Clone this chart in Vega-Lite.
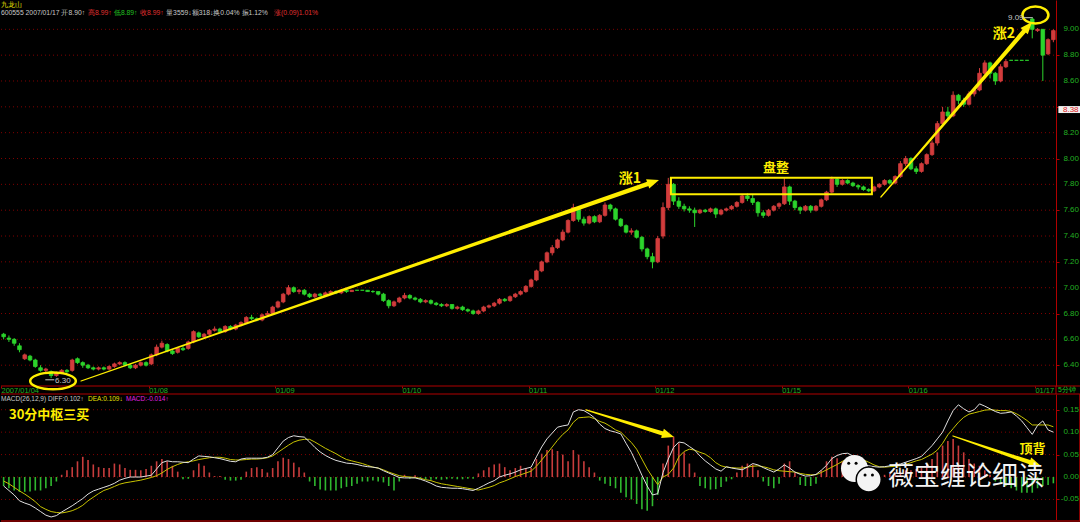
{
"$schema": "https://vega.github.io/schema/vega-lite/v6.json",
"background": "#000000",
"padding": 0,
"bounds": "flush",
"spacing": 8,
"config": {
  "view": {"stroke": null},
  "axis": {"domainColor": "#b00000", "tickColor": "#b00000", "labelColor": "#22b022", "labelFont": "Liberation Sans", "labelFontSize": 8, "labelOverlap": false}
},
"datasets": {
"bars": [
{"i":0,"o":6.64,"h":6.65,"l":6.60,"c":6.62,"d":-0.020,"e":-0.009,"m":-0.020},
{"i":1,"o":6.61,"h":6.63,"l":6.58,"c":6.60,"d":-0.030,"e":-0.015,"m":-0.025},
{"i":2,"o":6.60,"h":6.61,"l":6.55,"c":6.57,"d":-0.040,"e":-0.023,"m":-0.030},
{"i":3,"o":6.55,"h":6.57,"l":6.50,"c":6.52,"d":-0.053,"e":-0.031,"m":-0.033},
{"i":4,"o":6.45,"h":6.49,"l":6.44,"c":6.48,"d":-0.058,"e":-0.038,"m":-0.033},
{"i":5,"o":6.47,"h":6.48,"l":6.43,"c":6.44,"d":-0.062,"e":-0.046,"m":-0.032},
{"i":6,"o":6.44,"h":6.45,"l":6.38,"c":6.39,"d":-0.069,"e":-0.055,"m":-0.030},
{"i":7,"o":6.38,"h":6.40,"l":6.35,"c":6.36,"d":-0.077,"e":-0.066,"m":-0.030},
{"i":8,"o":6.36,"h":6.38,"l":6.34,"c":6.37,"d":-0.085,"e":-0.072,"m":-0.025},
{"i":9,"o":6.35,"h":6.36,"l":6.30,"c":6.32,"d":-0.089,"e":-0.077,"m":-0.020},
{"i":10,"o":6.32,"h":6.35,"l":6.31,"c":6.34,"d":-0.086,"e":-0.079,"m":-0.010},
{"i":11,"o":6.34,"h":6.37,"l":6.33,"c":6.36,"d":-0.078,"e":-0.080,"m":0.005},
{"i":12,"o":6.36,"h":6.37,"l":6.34,"c":6.35,"d":-0.071,"e":-0.078,"m":0.015},
{"i":13,"o":6.36,"h":6.45,"l":6.35,"c":6.44,"d":-0.064,"e":-0.075,"m":0.022},
{"i":14,"o":6.45,"h":6.46,"l":6.41,"c":6.42,"d":-0.056,"e":-0.070,"m":0.035},
{"i":15,"o":6.42,"h":6.43,"l":6.38,"c":6.40,"d":-0.048,"e":-0.063,"m":0.045},
{"i":16,"o":6.40,"h":6.41,"l":6.37,"c":6.38,"d":-0.038,"e":-0.053,"m":0.038},
{"i":17,"o":6.38,"h":6.39,"l":6.36,"c":6.37,"d":-0.031,"e":-0.045,"m":0.028},
{"i":18,"o":6.37,"h":6.39,"l":6.36,"c":6.38,"d":-0.027,"e":-0.037,"m":0.022},
{"i":19,"o":6.38,"h":6.39,"l":6.36,"c":6.37,"d":-0.023,"e":-0.030,"m":0.020},
{"i":20,"o":6.37,"h":6.40,"l":6.36,"c":6.39,"d":-0.019,"e":-0.026,"m":0.020},
{"i":21,"o":6.39,"h":6.42,"l":6.38,"c":6.41,"d":-0.014,"e":-0.021,"m":0.030},
{"i":22,"o":6.41,"h":6.43,"l":6.40,"c":6.42,"d":-0.007,"e":-0.016,"m":0.028},
{"i":23,"o":6.42,"h":6.43,"l":6.39,"c":6.40,"d":-0.003,"e":-0.013,"m":0.020},
{"i":24,"o":6.40,"h":6.41,"l":6.37,"c":6.38,"d":0.000,"e":-0.011,"m":0.016},
{"i":25,"o":6.38,"h":6.41,"l":6.37,"c":6.40,"d":0.000,"e":-0.009,"m":0.016},
{"i":26,"o":6.40,"h":6.43,"l":6.39,"c":6.42,"d":0.000,"e":-0.007,"m":0.015},
{"i":27,"o":6.42,"h":6.43,"l":6.39,"c":6.40,"d":0.002,"e":-0.004,"m":0.018},
{"i":28,"o":6.41,"h":6.49,"l":6.40,"c":6.48,"d":0.004,"e":-0.001,"m":0.025},
{"i":29,"o":6.48,"h":6.56,"l":6.47,"c":6.54,"d":0.018,"e":0.003,"m":0.035},
{"i":30,"o":6.54,"h":6.59,"l":6.53,"c":6.57,"d":0.032,"e":0.009,"m":0.040},
{"i":31,"o":6.56,"h":6.57,"l":6.50,"c":6.51,"d":0.036,"e":0.017,"m":0.035},
{"i":32,"o":6.51,"h":6.52,"l":6.48,"c":6.49,"d":0.034,"e":0.023,"m":0.025},
{"i":33,"o":6.50,"h":6.54,"l":6.49,"c":6.53,"d":0.034,"e":0.028,"m":0.012},
{"i":34,"o":6.53,"h":6.55,"l":6.51,"c":6.52,"d":0.033,"e":0.032,"m":-0.005},
{"i":35,"o":6.53,"h":6.59,"l":6.52,"c":6.58,"d":0.032,"e":0.034,"m":-0.004},
{"i":36,"o":6.58,"h":6.67,"l":6.57,"c":6.66,"d":0.040,"e":0.036,"m":0.015},
{"i":37,"o":6.65,"h":6.66,"l":6.61,"c":6.62,"d":0.047,"e":0.039,"m":0.030},
{"i":38,"o":6.62,"h":6.65,"l":6.61,"c":6.64,"d":0.046,"e":0.041,"m":0.025},
{"i":39,"o":6.64,"h":6.68,"l":6.63,"c":6.67,"d":0.045,"e":0.043,"m":0.010},
{"i":40,"o":6.67,"h":6.70,"l":6.66,"c":6.68,"d":0.043,"e":0.044,"m":0.002},
{"i":41,"o":6.68,"h":6.69,"l":6.65,"c":6.66,"d":0.041,"e":0.044,"m":0.002},
{"i":42,"o":6.66,"h":6.71,"l":6.65,"c":6.70,"d":0.038,"e":0.042,"m":-0.006},
{"i":43,"o":6.70,"h":6.71,"l":6.67,"c":6.68,"d":0.035,"e":0.039,"m":-0.008},
{"i":44,"o":6.68,"h":6.72,"l":6.67,"c":6.71,"d":0.034,"e":0.038,"m":-0.008},
{"i":45,"o":6.71,"h":6.74,"l":6.70,"c":6.73,"d":0.040,"e":0.038,"m":-0.006},
{"i":46,"o":6.73,"h":6.78,"l":6.72,"c":6.77,"d":0.042,"e":0.039,"m":0.012},
{"i":47,"o":6.77,"h":6.79,"l":6.75,"c":6.76,"d":0.042,"e":0.040,"m":0.020},
{"i":48,"o":6.76,"h":6.77,"l":6.74,"c":6.75,"d":0.042,"e":0.040,"m":0.022},
{"i":49,"o":6.75,"h":6.80,"l":6.74,"c":6.79,"d":0.042,"e":0.041,"m":0.018},
{"i":50,"o":6.79,"h":6.82,"l":6.78,"c":6.80,"d":0.044,"e":0.043,"m":0.010},
{"i":51,"o":6.80,"h":6.86,"l":6.79,"c":6.85,"d":0.050,"e":0.047,"m":0.020},
{"i":52,"o":6.85,"h":6.90,"l":6.84,"c":6.89,"d":0.065,"e":0.055,"m":0.035},
{"i":53,"o":6.89,"h":6.96,"l":6.88,"c":6.95,"d":0.080,"e":0.063,"m":0.043},
{"i":54,"o":6.95,"h":7.02,"l":6.94,"c":7.00,"d":0.088,"e":0.071,"m":0.040},
{"i":55,"o":7.00,"h":7.01,"l":6.96,"c":6.97,"d":0.092,"e":0.078,"m":0.032},
{"i":56,"o":6.97,"h":6.99,"l":6.95,"c":6.98,"d":0.090,"e":0.082,"m":0.022},
{"i":57,"o":6.98,"h":6.99,"l":6.94,"c":6.95,"d":0.089,"e":0.084,"m":0.010},
{"i":58,"o":6.95,"h":6.96,"l":6.92,"c":6.93,"d":0.078,"e":0.084,"m":-0.010},
{"i":59,"o":6.93,"h":6.96,"l":6.92,"c":6.95,"d":0.066,"e":0.078,"m":-0.020},
{"i":60,"o":6.95,"h":6.96,"l":6.93,"c":6.94,"d":0.056,"e":0.071,"m":-0.028},
{"i":61,"o":6.94,"h":6.97,"l":6.93,"c":6.96,"d":0.048,"e":0.064,"m":-0.030},
{"i":62,"o":6.96,"h":6.98,"l":6.95,"c":6.97,"d":0.042,"e":0.058,"m":-0.030},
{"i":63,"o":6.97,"h":6.98,"l":6.95,"c":6.96,"d":0.037,"e":0.052,"m":-0.030},
{"i":64,"o":6.96,"h":6.99,"l":6.95,"c":6.98,"d":0.034,"e":0.045,"m":-0.025},
{"i":65,"o":6.98,"h":6.99,"l":6.96,"c":6.97,"d":0.031,"e":0.039,"m":-0.022},
{"i":66,"o":6.97,"h":6.98,"l":6.97,"c":6.98,"d":0.030,"e":0.036,"m":-0.020},
{"i":67,"o":6.98,"h":6.98,"l":6.98,"c":6.98,"d":0.028,"e":0.033,"m":-0.015},
{"i":68,"o":6.98,"h":6.98,"l":6.98,"c":6.98,"d":0.025,"e":0.030,"m":-0.010},
{"i":69,"o":6.98,"h":6.98,"l":6.97,"c":6.97,"d":0.023,"e":0.026,"m":-0.010},
{"i":70,"o":6.97,"h":6.98,"l":6.96,"c":6.97,"d":0.022,"e":0.022,"m":-0.008},
{"i":71,"o":6.97,"h":6.97,"l":6.94,"c":6.95,"d":0.020,"e":0.020,"m":-0.010},
{"i":72,"o":6.95,"h":6.96,"l":6.89,"c":6.90,"d":0.014,"e":0.016,"m":-0.012},
{"i":73,"o":6.90,"h":6.91,"l":6.84,"c":6.86,"d":0.009,"e":0.011,"m":-0.020},
{"i":74,"o":6.86,"h":6.90,"l":6.85,"c":6.89,"d":0.004,"e":0.007,"m":-0.030},
{"i":75,"o":6.89,"h":6.93,"l":6.88,"c":6.92,"d":-0.001,"e":0.003,"m":-0.010},
{"i":76,"o":6.92,"h":6.96,"l":6.91,"c":6.94,"d":-0.002,"e":0.001,"m":0.005},
{"i":77,"o":6.94,"h":6.95,"l":6.91,"c":6.92,"d":-0.002,"e":0.000,"m":-0.004},
{"i":78,"o":6.92,"h":6.93,"l":6.90,"c":6.91,"d":-0.002,"e":-0.001,"m":0.004},
{"i":79,"o":6.91,"h":6.92,"l":6.88,"c":6.89,"d":-0.005,"e":-0.003,"m":-0.003},
{"i":80,"o":6.89,"h":6.91,"l":6.88,"c":6.90,"d":-0.009,"e":-0.006,"m":-0.005},
{"i":81,"o":6.90,"h":6.91,"l":6.87,"c":6.88,"d":-0.014,"e":-0.008,"m":-0.006},
{"i":82,"o":6.88,"h":6.89,"l":6.86,"c":6.87,"d":-0.020,"e":-0.012,"m":-0.005},
{"i":83,"o":6.87,"h":6.88,"l":6.85,"c":6.86,"d":-0.023,"e":-0.015,"m":-0.006},
{"i":84,"o":6.86,"h":6.88,"l":6.85,"c":6.87,"d":-0.024,"e":-0.017,"m":-0.005},
{"i":85,"o":6.87,"h":6.87,"l":6.83,"c":6.84,"d":-0.025,"e":-0.019,"m":-0.004},
{"i":86,"o":6.84,"h":6.86,"l":6.83,"c":6.85,"d":-0.025,"e":-0.021,"m":-0.005},
{"i":87,"o":6.85,"h":6.86,"l":6.82,"c":6.83,"d":-0.026,"e":-0.023,"m":-0.005},
{"i":88,"o":6.83,"h":6.84,"l":6.81,"c":6.82,"d":-0.028,"e":-0.025,"m":-0.004},
{"i":89,"o":6.82,"h":6.83,"l":6.79,"c":6.80,"d":-0.030,"e":-0.027,"m":-0.004},
{"i":90,"o":6.80,"h":6.83,"l":6.79,"c":6.82,"d":-0.025,"e":-0.029,"m":0.008},
{"i":91,"o":6.82,"h":6.86,"l":6.81,"c":6.85,"d":-0.019,"e":-0.026,"m":0.015},
{"i":92,"o":6.85,"h":6.87,"l":6.84,"c":6.86,"d":-0.013,"e":-0.023,"m":0.022},
{"i":93,"o":6.86,"h":6.89,"l":6.85,"c":6.88,"d":-0.008,"e":-0.019,"m":0.028},
{"i":94,"o":6.88,"h":6.92,"l":6.87,"c":6.91,"d":0.000,"e":-0.013,"m":0.030},
{"i":95,"o":6.91,"h":6.92,"l":6.89,"c":6.90,"d":0.004,"e":-0.009,"m":0.022},
{"i":96,"o":6.90,"h":6.94,"l":6.89,"c":6.93,"d":0.007,"e":-0.004,"m":0.015},
{"i":97,"o":6.93,"h":6.96,"l":6.92,"c":6.95,"d":0.011,"e":0.001,"m":0.020},
{"i":98,"o":6.95,"h":6.98,"l":6.94,"c":6.97,"d":0.016,"e":0.005,"m":0.025},
{"i":99,"o":6.97,"h":7.02,"l":6.96,"c":7.01,"d":0.019,"e":0.009,"m":0.020},
{"i":100,"o":7.01,"h":7.07,"l":7.00,"c":7.06,"d":0.022,"e":0.013,"m":0.020},
{"i":101,"o":7.06,"h":7.14,"l":7.05,"c":7.13,"d":0.045,"e":0.024,"m":0.040},
{"i":102,"o":7.13,"h":7.21,"l":7.12,"c":7.20,"d":0.067,"e":0.038,"m":0.052},
{"i":103,"o":7.20,"h":7.28,"l":7.19,"c":7.27,"d":0.085,"e":0.052,"m":0.060},
{"i":104,"o":7.27,"h":7.33,"l":7.25,"c":7.31,"d":0.098,"e":0.067,"m":0.062},
{"i":105,"o":7.31,"h":7.38,"l":7.30,"c":7.37,"d":0.111,"e":0.082,"m":0.058},
{"i":106,"o":7.37,"h":7.45,"l":7.36,"c":7.43,"d":0.114,"e":0.095,"m":0.050},
{"i":107,"o":7.43,"h":7.53,"l":7.42,"c":7.52,"d":0.116,"e":0.105,"m":0.035},
{"i":108,"o":7.52,"h":7.65,"l":7.51,"c":7.62,"d":0.145,"e":0.122,"m":0.060},
{"i":109,"o":7.61,"h":7.62,"l":7.51,"c":7.53,"d":0.150,"e":0.132,"m":0.050},
{"i":110,"o":7.53,"h":7.55,"l":7.48,"c":7.50,"d":0.148,"e":0.133,"m":0.035},
{"i":111,"o":7.50,"h":7.56,"l":7.49,"c":7.55,"d":0.141,"e":0.134,"m":0.022},
{"i":112,"o":7.55,"h":7.56,"l":7.50,"c":7.51,"d":0.132,"e":0.130,"m":0.010},
{"i":113,"o":7.51,"h":7.57,"l":7.50,"c":7.56,"d":0.118,"e":0.124,"m":-0.008},
{"i":114,"o":7.56,"h":7.66,"l":7.55,"c":7.64,"d":0.108,"e":0.120,"m":-0.015},
{"i":115,"o":7.64,"h":7.65,"l":7.59,"c":7.61,"d":0.103,"e":0.113,"m":-0.020},
{"i":116,"o":7.61,"h":7.62,"l":7.52,"c":7.53,"d":0.100,"e":0.105,"m":-0.025},
{"i":117,"o":7.53,"h":7.54,"l":7.47,"c":7.48,"d":0.096,"e":0.100,"m":-0.035},
{"i":118,"o":7.48,"h":7.49,"l":7.42,"c":7.43,"d":0.075,"e":0.088,"m":-0.045},
{"i":119,"o":7.43,"h":7.46,"l":7.41,"c":7.44,"d":0.055,"e":0.077,"m":-0.050},
{"i":120,"o":7.44,"h":7.45,"l":7.38,"c":7.39,"d":0.030,"e":0.062,"m":-0.060},
{"i":121,"o":7.39,"h":7.40,"l":7.28,"c":7.30,"d":0.004,"e":0.040,"m":-0.072},
{"i":122,"o":7.30,"h":7.31,"l":7.22,"c":7.24,"d":-0.020,"e":0.018,"m":-0.075},
{"i":123,"o":7.24,"h":7.27,"l":7.15,"c":7.20,"d":-0.040,"e":0.000,"m":-0.065},
{"i":124,"o":7.20,"h":7.40,"l":7.19,"c":7.38,"d":-0.037,"e":-0.017,"m":-0.040},
{"i":125,"o":7.40,"h":7.66,"l":7.38,"c":7.62,"d":0.010,"e":0.000,"m":0.030},
{"i":126,"o":7.62,"h":7.85,"l":7.60,"c":7.80,"d":0.040,"e":0.006,"m":0.070},
{"i":127,"o":7.80,"h":7.81,"l":7.64,"c":7.67,"d":0.066,"e":0.020,"m":0.090},
{"i":128,"o":7.67,"h":7.70,"l":7.61,"c":7.63,"d":0.078,"e":0.045,"m":0.075},
{"i":129,"o":7.63,"h":7.65,"l":7.59,"c":7.61,"d":0.076,"e":0.057,"m":0.055},
{"i":130,"o":7.61,"h":7.63,"l":7.58,"c":7.60,"d":0.068,"e":0.062,"m":0.030},
{"i":131,"o":7.60,"h":7.62,"l":7.47,"c":7.58,"d":0.060,"e":0.060,"m":0.010},
{"i":132,"o":7.58,"h":7.61,"l":7.57,"c":7.60,"d":0.047,"e":0.055,"m":-0.020},
{"i":133,"o":7.60,"h":7.61,"l":7.58,"c":7.59,"d":0.036,"e":0.051,"m":-0.025},
{"i":134,"o":7.59,"h":7.62,"l":7.58,"c":7.61,"d":0.027,"e":0.043,"m":-0.028},
{"i":135,"o":7.61,"h":7.62,"l":7.54,"c":7.57,"d":0.018,"e":0.032,"m":-0.027},
{"i":136,"o":7.57,"h":7.61,"l":7.56,"c":7.60,"d":0.013,"e":0.025,"m":-0.022},
{"i":137,"o":7.60,"h":7.62,"l":7.59,"c":7.61,"d":0.023,"e":0.022,"m":-0.010},
{"i":138,"o":7.61,"h":7.64,"l":7.60,"c":7.63,"d":0.020,"e":0.021,"m":-0.005},
{"i":139,"o":7.63,"h":7.67,"l":7.62,"c":7.66,"d":0.018,"e":0.020,"m":0.010},
{"i":140,"o":7.66,"h":7.72,"l":7.65,"c":7.71,"d":0.016,"e":0.020,"m":0.025},
{"i":141,"o":7.71,"h":7.73,"l":7.67,"c":7.69,"d":0.022,"e":0.022,"m":0.030},
{"i":142,"o":7.69,"h":7.72,"l":7.64,"c":7.66,"d":0.030,"e":0.024,"m":0.028},
{"i":143,"o":7.66,"h":7.67,"l":7.55,"c":7.58,"d":0.027,"e":0.025,"m":0.015},
{"i":144,"o":7.58,"h":7.60,"l":7.54,"c":7.56,"d":0.021,"e":0.023,"m":-0.010},
{"i":145,"o":7.56,"h":7.61,"l":7.55,"c":7.60,"d":0.016,"e":0.020,"m":-0.020},
{"i":146,"o":7.60,"h":7.64,"l":7.59,"c":7.63,"d":0.011,"e":0.016,"m":-0.025},
{"i":147,"o":7.63,"h":7.66,"l":7.61,"c":7.65,"d":0.018,"e":0.014,"m":-0.015},
{"i":148,"o":7.65,"h":7.85,"l":7.64,"c":7.78,"d":0.027,"e":0.013,"m":0.030},
{"i":149,"o":7.78,"h":7.79,"l":7.64,"c":7.67,"d":0.020,"e":0.012,"m":0.035},
{"i":150,"o":7.67,"h":7.68,"l":7.60,"c":7.62,"d":0.011,"e":0.011,"m":0.010},
{"i":151,"o":7.62,"h":7.63,"l":7.57,"c":7.60,"d":0.006,"e":0.008,"m":-0.018},
{"i":152,"o":7.60,"h":7.64,"l":7.59,"c":7.63,"d":0.002,"e":0.006,"m":-0.020},
{"i":153,"o":7.63,"h":7.64,"l":7.58,"c":7.60,"d":0.003,"e":0.005,"m":-0.020},
{"i":154,"o":7.60,"h":7.64,"l":7.59,"c":7.63,"d":0.006,"e":0.005,"m":-0.015},
{"i":155,"o":7.63,"h":7.69,"l":7.62,"c":7.68,"d":0.015,"e":0.010,"m":0.015},
{"i":156,"o":7.68,"h":7.75,"l":7.67,"c":7.74,"d":0.026,"e":0.016,"m":0.035},
{"i":157,"o":7.74,"h":7.86,"l":7.73,"c":7.84,"d":0.041,"e":0.022,"m":0.045},
{"i":158,"o":7.84,"h":7.85,"l":7.78,"c":7.80,"d":0.048,"e":0.028,"m":0.042},
{"i":159,"o":7.80,"h":7.84,"l":7.79,"c":7.83,"d":0.052,"e":0.035,"m":0.035},
{"i":160,"o":7.83,"h":7.84,"l":7.80,"c":7.81,"d":0.053,"e":0.040,"m":0.025},
{"i":161,"o":7.81,"h":7.82,"l":7.78,"c":7.79,"d":0.047,"e":0.039,"m":0.015},
{"i":162,"o":7.79,"h":7.80,"l":7.76,"c":7.78,"d":0.037,"e":0.039,"m":0.005},
{"i":163,"o":7.78,"h":7.79,"l":7.75,"c":7.76,"d":0.028,"e":0.038,"m":-0.010},
{"i":164,"o":7.76,"h":7.77,"l":7.74,"c":7.75,"d":0.025,"e":0.033,"m":-0.012},
{"i":165,"o":7.75,"h":7.79,"l":7.74,"c":7.78,"d":0.023,"e":0.027,"m":-0.010},
{"i":166,"o":7.78,"h":7.81,"l":7.77,"c":7.80,"d":0.022,"e":0.023,"m":-0.008},
{"i":167,"o":7.80,"h":7.84,"l":7.79,"c":7.83,"d":0.023,"e":0.022,"m":0.005},
{"i":168,"o":7.83,"h":7.84,"l":7.80,"c":7.81,"d":0.025,"e":0.023,"m":0.008},
{"i":169,"o":7.81,"h":7.87,"l":7.80,"c":7.86,"d":0.027,"e":0.024,"m":0.010},
{"i":170,"o":7.86,"h":7.98,"l":7.85,"c":7.96,"d":0.029,"e":0.025,"m":0.012},
{"i":171,"o":7.96,"h":8.02,"l":7.94,"c":8.00,"d":0.033,"e":0.028,"m":0.015},
{"i":172,"o":8.00,"h":8.01,"l":7.91,"c":7.92,"d":0.037,"e":0.032,"m":0.015},
{"i":173,"o":7.92,"h":7.94,"l":7.88,"c":7.90,"d":0.041,"e":0.036,"m":0.018},
{"i":174,"o":7.90,"h":7.97,"l":7.89,"c":7.96,"d":0.046,"e":0.039,"m":0.020},
{"i":175,"o":7.96,"h":8.04,"l":7.95,"c":8.03,"d":0.058,"e":0.045,"m":0.030},
{"i":176,"o":8.03,"h":8.14,"l":8.02,"c":8.12,"d":0.070,"e":0.051,"m":0.040},
{"i":177,"o":8.12,"h":8.29,"l":8.10,"c":8.27,"d":0.085,"e":0.060,"m":0.055},
{"i":178,"o":8.27,"h":8.40,"l":8.25,"c":8.36,"d":0.100,"e":0.075,"m":0.070},
{"i":179,"o":8.36,"h":8.40,"l":8.30,"c":8.33,"d":0.125,"e":0.094,"m":0.080},
{"i":180,"o":8.33,"h":8.52,"l":8.32,"c":8.49,"d":0.148,"e":0.108,"m":0.085},
{"i":181,"o":8.49,"h":8.50,"l":8.42,"c":8.45,"d":0.161,"e":0.122,"m":0.070},
{"i":182,"o":8.45,"h":8.47,"l":8.40,"c":8.42,"d":0.152,"e":0.133,"m":0.055},
{"i":183,"o":8.42,"h":8.52,"l":8.41,"c":8.50,"d":0.145,"e":0.140,"m":0.040},
{"i":184,"o":8.50,"h":8.55,"l":8.48,"c":8.53,"d":0.150,"e":0.143,"m":0.030},
{"i":185,"o":8.53,"h":8.70,"l":8.52,"c":8.66,"d":0.163,"e":0.146,"m":0.025},
{"i":186,"o":8.66,"h":8.76,"l":8.65,"c":8.74,"d":0.158,"e":0.149,"m":0.015},
{"i":187,"o":8.74,"h":8.75,"l":8.62,"c":8.66,"d":0.152,"e":0.150,"m":0.005},
{"i":188,"o":8.66,"h":8.67,"l":8.57,"c":8.60,"d":0.146,"e":0.149,"m":-0.010},
{"i":189,"o":8.60,"h":8.73,"l":8.59,"c":8.71,"d":0.142,"e":0.148,"m":-0.015},
{"i":190,"o":8.71,"h":8.77,"l":8.70,"c":8.75,"d":0.143,"e":0.148,"m":-0.020},
{"i":191,"o":8.76,"h":8.76,"l":8.76,"c":8.76,"d":0.145,"e":0.146,"m":-0.025},
{"i":192,"o":8.76,"h":8.76,"l":8.76,"c":8.76,"d":0.136,"e":0.141,"m":-0.030},
{"i":193,"o":8.76,"h":8.76,"l":8.76,"c":8.76,"d":0.125,"e":0.134,"m":-0.035},
{"i":194,"o":8.76,"h":8.76,"l":8.76,"c":8.76,"d":0.110,"e":0.126,"m":-0.035},
{"i":195,"o":9.08,"h":9.09,"l":8.93,"c":9.00,"d":0.095,"e":0.116,"m":-0.035},
{"i":196,"o":8.99,"h":9.01,"l":8.98,"c":9.00,"d":0.115,"e":0.116,"m":-0.025},
{"i":197,"o":9.00,"h":9.00,"l":8.60,"c":8.80,"d":0.125,"e":0.116,"m":-0.020},
{"i":198,"o":8.81,"h":8.93,"l":8.80,"c":8.92,"d":0.105,"e":0.116,"m":-0.018},
{"i":199,"o":8.92,"h":9.00,"l":8.90,"c":8.99,"d":0.100,"e":0.112,"m":-0.014}
]
},
"vconcat": [
{
"width": 1055,
"height": 386,
"layer": [
{"data": {"values": [{"p": 6.4}, {"p": 6.6}, {"p": 6.8}, {"p": 7.0}, {"p": 7.2}, {"p": 7.4}, {"p": 7.6}, {"p": 7.8}, {"p": 8.0}, {"p": 8.2}, {"p": 8.4}, {"p": 8.6}, {"p": 8.8}, {"p": 9.0}]},
 "mark": {"type": "rule", "color": "#800000", "strokeWidth": 1, "strokeDash": [1, 3]},
 "encoding": {
  "x": {"datum": -0.5, "type": "quantitative", "scale": {"domain": [-0.5, 199.5], "nice": false, "zero": false, "padding": 0},
        "axis": {"orient": "bottom", "title": null, "values": [-0.5, 27.5, 51.5, 75.5, 99.5, 123.5, 147.5, 171.5, 195.5],
                 "labelExpr": "datum.value < 0 ? '2007/01/04' : datum.value < 30 ? '01/08' : datum.value < 60 ? '01/09' : datum.value < 80 ? '01/10' : datum.value < 110 ? '01/11' : datum.value < 130 ? '01/12' : datum.value < 160 ? '01/15' : datum.value < 180 ? '01/16' : '01/17'",
                 "domain": false, "grid": false, "ticks": true, "tickSize": 2, "labelAlign": "left", "labelBaseline": "middle", "labelPadding": 2, "labelOverlap": false, "labelFlush": false, "labelBound": false, "labelFontSize": 7.5}},
  "x2": {"datum": 199.5},
  "y": {"field": "p", "type": "quantitative", "scale": {"domain": [6.239, 9.227], "nice": false, "zero": false, "padding": 0},
        "axis": {"orient": "right", "title": null, "values": [6.4, 6.6, 6.8, 7.0, 7.2, 7.4, 7.6, 7.8, 8.0, 8.2, 8.4, 8.6, 8.8, 9.0], "grid": false, "labels": false, "domain": true, "ticks": true, "tickSize": 3}}
 }},
{"data": {"values": [{"p": 6.4, "t": "6.40"}, {"p": 6.6, "t": "6.60"}, {"p": 6.8, "t": "6.80"}, {"p": 7.0, "t": "7.00"}, {"p": 7.2, "t": "7.20"}, {"p": 7.4, "t": "7.40"}, {"p": 7.6, "t": "7.60"}, {"p": 7.8, "t": "7.80"}, {"p": 8.0, "t": "8.00"}, {"p": 8.2, "t": "8.20"}, {"p": 8.6, "t": "8.60"}, {"p": 8.8, "t": "8.80"}, {"p": 9.0, "t": "9.00"}]},
 "mark": {"type": "text", "align": "right", "baseline": "middle", "font": "Liberation Sans", "fontSize": 8, "color": "#22b022"},
 "encoding": {
  "x": {"datum": 203.86, "type": "quantitative", "scale": {"domain": [-0.5, 199.5], "nice": false, "zero": false, "padding": 0}},
  "y": {"field": "p", "type": "quantitative", "scale": {"domain": [6.239, 9.227], "nice": false, "zero": false, "padding": 0}},
  "text": {"field": "t"}
 }},
{"data": {"values": [{"i": 199.5, "p": 6.239, "p2": 6.177}]}, "mark": {"type": "rule", "color": "#b00000", "strokeWidth": 1},
 "encoding": {
  "x": {"field": "i", "type": "quantitative", "scale": {"domain": [-0.5, 199.5], "nice": false, "zero": false, "padding": 0}},
  "y": {"field": "p", "type": "quantitative", "scale": {"domain": [6.239, 9.227], "nice": false, "zero": false, "padding": 0}},
  "y2": {"field": "p2"}
 }},
{"data": {"name": "bars"}, "mark": {"type": "rule", "strokeWidth": 1},
 "encoding": {
  "x": {"field": "i", "type": "quantitative", "scale": {"domain": [-0.5, 199.5], "nice": false, "zero": false, "padding": 0}},
  "y": {"field": "l", "type": "quantitative", "scale": {"domain": [6.239, 9.227], "nice": false, "zero": false, "padding": 0}},
  "y2": {"field": "h"},
  "color": {"condition": {"test": "datum.c > datum.o", "value": "#d23c3c"}, "value": "#2cd42c"}
 }},
{"data": {"name": "bars"}, "mark": {"type": "bar", "width": 3.6, "strokeWidth": 0.8},
 "encoding": {
  "x": {"field": "i", "type": "quantitative", "scale": {"domain": [-0.5, 199.5], "nice": false, "zero": false, "padding": 0}},
  "y": {"field": "o", "type": "quantitative", "scale": {"domain": [6.239, 9.227], "nice": false, "zero": false, "padding": 0}},
  "y2": {"field": "c"},
  "fill": {"condition": {"test": "datum.c > datum.o", "value": "#d23c3c"}, "value": "#2cd42c"},
  "stroke": {"condition": {"test": "datum.c > datum.o", "value": "#d23c3c"}, "value": "#2cd42c"}
 }},
{"data": {"values": [{"i": -0.5, "i2": 204.3, "p": 6.239}]}, "mark": {"type": "rule", "color": "#b00000", "strokeWidth": 1},
 "encoding": {
  "x": {"field": "i", "type": "quantitative", "scale": {"domain": [-0.5, 199.5], "nice": false, "zero": false, "padding": 0}},
  "x2": {"field": "i2"},
  "y": {"field": "p", "type": "quantitative", "scale": {"domain": [6.239, 9.227], "nice": false, "zero": false, "padding": 0}}
 }},
{"data": {"values": [{"i": 126.5, "i2": 164.6, "p": 7.851, "p2": 7.723}]}, "mark": {"type": "rect", "filled": false, "color": "#ffee00", "strokeWidth": 2},
 "encoding": {
  "x": {"field": "i", "type": "quantitative", "scale": {"domain": [-0.5, 199.5], "nice": false, "zero": false, "padding": 0}},
  "x2": {"field": "i2"},
  "y": {"field": "p", "type": "quantitative", "scale": {"domain": [6.239, 9.227], "nice": false, "zero": false, "padding": 0}},
  "y2": {"field": "p2"}
 }},
{"data": {"values": [{"a": "1", "i": 14.67, "p": 6.278, "t": 0}, {"a": "1", "i": 122.81, "p": 7.813, "t": 1}, {"a": "2", "i": 166.3, "p": 7.702, "t": 0}, {"a": "2", "i": 193.96, "p": 9.0096, "t": 1}]},
 "mark": {"type": "trail", "color": "#ffee00"},
 "encoding": {
  "x": {"field": "i", "type": "quantitative", "scale": {"domain": [-0.5, 199.5], "nice": false, "zero": false, "padding": 0}},
  "y": {"field": "p", "type": "quantitative", "scale": {"domain": [6.239, 9.227], "nice": false, "zero": false, "padding": 0}},
  "detail": {"field": "a"},
  "order": {"field": "t"},
  "size": {"field": "t", "type": "quantitative", "scale": {"domain": [0, 1], "range": [1.2, 4.5]}, "legend": null}
 }},
{"data": {"values": [{"i": 124.24, "p": 7.834}]}, "mark": {"type": "point", "shape": "M0,0L-1,-0.4L-1,0.4Z", "size": 576, "angle": -19.2, "filled": true, "color": "#ffee00", "opacity": 1},
 "encoding": {
  "x": {"field": "i", "type": "quantitative", "scale": {"domain": [-0.5, 199.5], "nice": false, "zero": false, "padding": 0}},
  "y": {"field": "p", "type": "quantitative", "scale": {"domain": [6.239, 9.227], "nice": false, "zero": false, "padding": 0}}
 }},
{"data": {"values": [{"i": 194.95, "p": 9.056}]}, "mark": {"type": "point", "shape": "M0,0L-1,-0.4L-1,0.4Z", "size": 576, "angle": -49.2, "filled": true, "color": "#ffee00", "opacity": 1},
 "encoding": {
  "x": {"field": "i", "type": "quantitative", "scale": {"domain": [-0.5, 199.5], "nice": false, "zero": false, "padding": 0}},
  "y": {"field": "p", "type": "quantitative", "scale": {"domain": [6.239, 9.227], "nice": false, "zero": false, "padding": 0}}
 }},
{"data": {"values": [{"i": 9.36, "p": 6.278}]}, "mark": {"type": "point", "shape": "M-1,0A1,0.365,0,1,1,1,0A1,0.365,0,1,1,-1,0Z", "size": 2088, "filled": false, "color": "#ffee00", "strokeWidth": 2.5, "opacity": 1},
 "encoding": {
  "x": {"field": "i", "type": "quantitative", "scale": {"domain": [-0.5, 199.5], "nice": false, "zero": false, "padding": 0}},
  "y": {"field": "p", "type": "quantitative", "scale": {"domain": [6.239, 9.227], "nice": false, "zero": false, "padding": 0}}
 }},
{"data": {"values": [{"i": 195.6, "p": 9.111}]}, "mark": {"type": "point", "shape": "M-1,0A1,0.65,0,1,1,1,0A1,0.65,0,1,1,-1,0Z", "size": 676, "filled": false, "color": "#ffee00", "strokeWidth": 2.5, "opacity": 1},
 "encoding": {
  "x": {"field": "i", "type": "quantitative", "scale": {"domain": [-0.5, 199.5], "nice": false, "zero": false, "padding": 0}},
  "y": {"field": "p", "type": "quantitative", "scale": {"domain": [6.239, 9.227], "nice": false, "zero": false, "padding": 0}}
 }},
{"data": {"values": [{"i": 7.9, "i2": 9.6, "p": 6.287}, {"i": 193.3, "i2": 195.1, "p": 9.09}]}, "mark": {"type": "rule", "color": "#c8c8c8", "strokeWidth": 1},
 "encoding": {
  "x": {"field": "i", "type": "quantitative", "scale": {"domain": [-0.5, 199.5], "nice": false, "zero": false, "padding": 0}},
  "x2": {"field": "i2"},
  "y": {"field": "p", "type": "quantitative", "scale": {"domain": [6.239, 9.227], "nice": false, "zero": false, "padding": 0}}
 }},
{"data": {"values": [{"i": 9.74, "p": 6.28, "t": "6.30"}, {"i": 190.4, "p": 9.09, "t": "9.09"}]}, "mark": {"type": "text", "align": "left", "baseline": "middle", "font": "Liberation Sans", "fontSize": 8, "color": "#c8c8c8"},
 "encoding": {
  "x": {"field": "i", "type": "quantitative", "scale": {"domain": [-0.5, 199.5], "nice": false, "zero": false, "padding": 0}},
  "y": {"field": "p", "type": "quantitative", "scale": {"domain": [6.239, 9.227], "nice": false, "zero": false, "padding": 0}},
  "text": {"field": "t"}
 }},
{"data": {"values": [{"i": 118.74, "p": 7.845, "t": "涨1"}, {"i": 189.6, "p": 8.96, "t": "涨2"}]}, "mark": {"type": "text", "align": "center", "baseline": "middle", "font": "Noto Sans CJK SC", "fontWeight": "bold", "fontSize": 14, "color": "#ffee00"},
 "encoding": {
  "x": {"field": "i", "type": "quantitative", "scale": {"domain": [-0.5, 199.5], "nice": false, "zero": false, "padding": 0}},
  "y": {"field": "p", "type": "quantitative", "scale": {"domain": [6.239, 9.227], "nice": false, "zero": false, "padding": 0}},
  "text": {"field": "t"}
 }},
{"data": {"values": [{"i": 146.4, "p": 7.93, "t": "盘整"}]}, "mark": {"type": "text", "align": "center", "baseline": "middle", "font": "Noto Sans CJK SC", "fontWeight": "bold", "fontSize": 13, "color": "#ffee00"},
 "encoding": {
  "x": {"field": "i", "type": "quantitative", "scale": {"domain": [-0.5, 199.5], "nice": false, "zero": false, "padding": 0}},
  "y": {"field": "p", "type": "quantitative", "scale": {"domain": [6.239, 9.227], "nice": false, "zero": false, "padding": 0}},
  "text": {"field": "t"}
 }},
{"data": {"values": [
   {"i": -0.5, "p": 9.19, "t": "九龙山", "k": "y"},
   {"i": -0.5, "p": 9.126, "t": "600555 2007/01/17 开8.90↑", "k": "w"},
   {"i": 16.0, "p": 9.126, "t": "高8.99↑", "k": "r"},
   {"i": 20.9, "p": 9.126, "t": "低8.89↑", "k": "g"},
   {"i": 25.85, "p": 9.126, "t": "收8.99↑", "k": "r"},
   {"i": 30.8, "p": 9.126, "t": "量3559↓额318↓换0.04% 振1.12%", "k": "w"},
   {"i": 51.25, "p": 9.126, "t": "涨(0.09)1.01%", "k": "r"},
   {"i": 199.9, "p": 6.208, "t": "5分钟", "k": "g"}]},
 "mark": {"type": "text", "align": "left", "baseline": "middle", "font": "Liberation Sans", "fontSize": 6.8},
 "encoding": {
  "x": {"field": "i", "type": "quantitative", "scale": {"domain": [-0.5, 199.5], "nice": false, "zero": false, "padding": 0}},
  "y": {"field": "p", "type": "quantitative", "scale": {"domain": [6.239, 9.227], "nice": false, "zero": false, "padding": 0}},
  "text": {"field": "t"},
  "color": {"field": "k", "type": "nominal", "scale": {"domain": ["w", "r", "g", "y", "m"], "range": ["#c8c8c8", "#e03030", "#20c020", "#e8e000", "#e020e0"]}, "legend": null}
 }},
{"data": {"values": [{"i": 199.95, "i2": 204.3, "p": 8.352, "p2": 8.406}]}, "mark": {"type": "rect", "color": "#f0f0f0"},
 "encoding": {
  "x": {"field": "i", "type": "quantitative", "scale": {"domain": [-0.5, 199.5], "nice": false, "zero": false, "padding": 0}},
  "x2": {"field": "i2"},
  "y": {"field": "p", "type": "quantitative", "scale": {"domain": [6.239, 9.227], "nice": false, "zero": false, "padding": 0}},
  "y2": {"field": "p2"}
 }},
{"data": {"values": [{"i": 202.3, "p": 8.379, "t": "8.38"}]}, "mark": {"type": "text", "align": "center", "baseline": "middle", "font": "Liberation Sans", "fontSize": 8, "color": "#e02020"},
 "encoding": {
  "x": {"field": "i", "type": "quantitative", "scale": {"domain": [-0.5, 199.5], "nice": false, "zero": false, "padding": 0}},
  "y": {"field": "p", "type": "quantitative", "scale": {"domain": [6.239, 9.227], "nice": false, "zero": false, "padding": 0}},
  "text": {"field": "t"}
 }}
]
},
{
"width": 1055,
"height": 127,
"layer": [
{"data": {"values": [{"v": -0.05}, {"v": 0}, {"v": 0.05}, {"v": 0.1}, {"v": 0.15}]},
 "mark": {"type": "rule", "color": "#800000", "strokeWidth": 1, "strokeDash": [1, 3]},
 "encoding": {
  "x": {"datum": -0.5, "type": "quantitative", "scale": {"domain": [-0.5, 199.5], "nice": false, "zero": false, "padding": 0}, "axis": null},
  "x2": {"datum": 199.5},
  "y": {"field": "v", "type": "quantitative", "scale": {"domain": [-0.098, 0.185], "nice": false, "zero": false, "padding": 0},
        "axis": {"orient": "right", "title": null, "values": [-0.05, 0, 0.05, 0.1, 0.15], "grid": false, "labels": false, "domain": true, "ticks": true, "tickSize": 3}}
 }},
{"data": {"values": [{"v": -0.05, "t": "-0.05"}, {"v": 0, "t": "0.00"}, {"v": 0.05, "t": "0.05"}, {"v": 0.1, "t": "0.10"}, {"v": 0.15, "t": "0.15"}]},
 "mark": {"type": "text", "align": "right", "baseline": "middle", "font": "Liberation Sans", "fontSize": 8, "color": "#22b022"},
 "encoding": {
  "x": {"datum": 203.86, "type": "quantitative", "scale": {"domain": [-0.5, 199.5], "nice": false, "zero": false, "padding": 0}, "axis": null},
  "y": {"field": "v", "type": "quantitative", "scale": {"domain": [-0.098, 0.185], "nice": false, "zero": false, "padding": 0}},
  "text": {"field": "t"}
 }},
{"data": {"name": "bars"}, "mark": {"type": "rule", "strokeWidth": 1.6},
 "encoding": {
  "x": {"field": "i", "type": "quantitative", "scale": {"domain": [-0.5, 199.5], "nice": false, "zero": false, "padding": 0}, "axis": null},
  "y": {"field": "m", "type": "quantitative", "scale": {"domain": [-0.098, 0.185], "nice": false, "zero": false, "padding": 0}},
  "y2": {"datum": 0},
  "color": {"condition": {"test": "datum.m >= 0", "value": "#c83c3c"}, "value": "#2fb82f"}
 }},
{"data": {"name": "bars"}, "mark": {"type": "line", "strokeWidth": 1, "color": "#c8c400"},
 "encoding": {
  "x": {"field": "i", "type": "quantitative", "scale": {"domain": [-0.5, 199.5], "nice": false, "zero": false, "padding": 0}, "axis": null},
  "y": {"field": "e", "type": "quantitative", "scale": {"domain": [-0.098, 0.185], "nice": false, "zero": false, "padding": 0}}
 }},
{"data": {"name": "bars"}, "mark": {"type": "line", "strokeWidth": 1, "color": "#e0e0e0"},
 "encoding": {
  "x": {"field": "i", "type": "quantitative", "scale": {"domain": [-0.5, 199.5], "nice": false, "zero": false, "padding": 0}, "axis": null},
  "y": {"field": "d", "type": "quantitative", "scale": {"domain": [-0.098, 0.185], "nice": false, "zero": false, "padding": 0}}
 }},
{"data": {"values": [{"i": -0.5, "i2": 204.3, "v": 0.185}]}, "mark": {"type": "rule", "color": "#b00000", "strokeWidth": 1},
 "encoding": {
  "x": {"field": "i", "type": "quantitative", "scale": {"domain": [-0.5, 199.5], "nice": false, "zero": false, "padding": 0}, "axis": null},
  "x2": {"field": "i2"},
  "y": {"field": "v", "type": "quantitative", "scale": {"domain": [-0.098, 0.185], "nice": false, "zero": false, "padding": 0}}
 }},
{"data": {"values": [{"i": -0.5, "i2": 204.3, "v": -0.098}]}, "mark": {"type": "rule", "color": "#700000", "strokeWidth": 2},
 "encoding": {
  "x": {"field": "i", "type": "quantitative", "scale": {"domain": [-0.5, 199.5], "nice": false, "zero": false, "padding": 0}, "axis": null},
  "x2": {"field": "i2"},
  "y": {"field": "v", "type": "quantitative", "scale": {"domain": [-0.098, 0.185], "nice": false, "zero": false, "padding": 0}}
 }},
{"data": {"values": [{"i": 204.0, "v": -0.098, "v2": 0.185}]}, "mark": {"type": "rule", "color": "#b00000", "strokeWidth": 1},
 "encoding": {
  "x": {"field": "i", "type": "quantitative", "scale": {"domain": [-0.5, 199.5], "nice": false, "zero": false, "padding": 0}, "axis": null},
  "y": {"field": "v", "type": "quantitative", "scale": {"domain": [-0.098, 0.185], "nice": false, "zero": false, "padding": 0}},
  "y2": {"field": "v2"}
 }},
{"data": {"values": [{"a": "3", "i": 110.4, "v": 0.1496, "t": 0}, {"a": "3", "i": 125.63, "v": 0.0945, "t": 1}, {"a": "4", "i": 179.97, "v": 0.0915, "t": 0}, {"a": "4", "i": 195.22, "v": 0.0303, "t": 1}]},
 "mark": {"type": "trail", "color": "#ffee00"},
 "encoding": {
  "x": {"field": "i", "type": "quantitative", "scale": {"domain": [-0.5, 199.5], "nice": false, "zero": false, "padding": 0}, "axis": null},
  "y": {"field": "v", "type": "quantitative", "scale": {"domain": [-0.098, 0.185], "nice": false, "zero": false, "padding": 0}},
  "detail": {"field": "a"},
  "order": {"field": "t"},
  "size": {"field": "t", "type": "quantitative", "scale": {"domain": [0, 1], "range": [1.3, 4.2]}, "legend": null}
 }},
{"data": {"values": [{"i": 127.08, "v": 0.0893}]}, "mark": {"type": "point", "shape": "M0,0L-1,-0.4L-1,0.4Z", "size": 576, "angle": 17.0, "filled": true, "color": "#ffee00", "opacity": 1},
 "encoding": {
  "x": {"field": "i", "type": "quantitative", "scale": {"domain": [-0.5, 199.5], "nice": false, "zero": false, "padding": 0}, "axis": null},
  "y": {"field": "v", "type": "quantitative", "scale": {"domain": [-0.098, 0.185], "nice": false, "zero": false, "padding": 0}}
 }},
{"data": {"values": [{"i": 196.66, "v": 0.0246}]}, "mark": {"type": "point", "shape": "M0,0L-1,-0.4L-1,0.4Z", "size": 576, "angle": 18.9, "filled": true, "color": "#ffee00", "opacity": 1},
 "encoding": {
  "x": {"field": "i", "type": "quantitative", "scale": {"domain": [-0.5, 199.5], "nice": false, "zero": false, "padding": 0}, "axis": null},
  "y": {"field": "v", "type": "quantitative", "scale": {"domain": [-0.098, 0.185], "nice": false, "zero": false, "padding": 0}}
 }},
{"data": {"values": [{"i": 161.3, "v": 0.019}]}, "mark": {"type": "point", "shape": "circle", "size": 729, "filled": true, "color": "#f4f4f4", "opacity": 1},
 "encoding": {
  "x": {"field": "i", "type": "quantitative", "scale": {"domain": [-0.5, 199.5], "nice": false, "zero": false, "padding": 0}, "axis": null},
  "y": {"field": "v", "type": "quantitative", "scale": {"domain": [-0.098, 0.185], "nice": false, "zero": false, "padding": 0}}
 }},
{"data": {"values": [{"i": 164.0, "v": -0.0056}]}, "mark": {"type": "point", "shape": "circle", "size": 625, "filled": true, "fill": "#f4f4f4", "stroke": "#000000", "strokeWidth": 1.5, "opacity": 1},
 "encoding": {
  "x": {"field": "i", "type": "quantitative", "scale": {"domain": [-0.5, 199.5], "nice": false, "zero": false, "padding": 0}, "axis": null},
  "y": {"field": "v", "type": "quantitative", "scale": {"domain": [-0.098, 0.185], "nice": false, "zero": false, "padding": 0}}
 }},
{"data": {"values": [{"i": 160.2, "v": 0.0306}, {"i": 161.6, "v": 0.0306}, {"i": 163.3, "v": 0.0045}, {"i": 164.7, "v": 0.0045}]}, "mark": {"type": "point", "shape": "circle", "size": 9, "filled": true, "color": "#000000", "opacity": 1},
 "encoding": {
  "x": {"field": "i", "type": "quantitative", "scale": {"domain": [-0.5, 199.5], "nice": false, "zero": false, "padding": 0}, "axis": null},
  "y": {"field": "v", "type": "quantitative", "scale": {"domain": [-0.098, 0.185], "nice": false, "zero": false, "padding": 0}}
 }},
{"data": {"values": [{"i": 182.44, "v": 0.0, "t": "薇宝缠论细读"}]}, "mark": {"type": "text", "align": "center", "baseline": "middle", "font": "Noto Sans CJK SC", "fontSize": 26, "color": "#f4f4f4"},
 "encoding": {
  "x": {"field": "i", "type": "quantitative", "scale": {"domain": [-0.5, 199.5], "nice": false, "zero": false, "padding": 0}, "axis": null},
  "y": {"field": "v", "type": "quantitative", "scale": {"domain": [-0.098, 0.185], "nice": false, "zero": false, "padding": 0}},
  "text": {"field": "t"}
 }},
{"data": {"values": [{"i": 1.02, "v": 0.138, "t": "30分中枢三买"}]}, "mark": {"type": "text", "align": "left", "baseline": "middle", "font": "Noto Sans CJK SC", "fontWeight": "bold", "fontSize": 13, "color": "#ffee00"},
 "encoding": {
  "x": {"field": "i", "type": "quantitative", "scale": {"domain": [-0.5, 199.5], "nice": false, "zero": false, "padding": 0}, "axis": null},
  "y": {"field": "v", "type": "quantitative", "scale": {"domain": [-0.098, 0.185], "nice": false, "zero": false, "padding": 0}},
  "text": {"field": "t"}
 }},
{"data": {"values": [{"i": 195.05, "v": 0.062, "t": "顶背"}]}, "mark": {"type": "text", "align": "center", "baseline": "middle", "font": "Noto Sans CJK SC", "fontWeight": "bold", "fontSize": 13, "color": "#ffee00"},
 "encoding": {
  "x": {"field": "i", "type": "quantitative", "scale": {"domain": [-0.5, 199.5], "nice": false, "zero": false, "padding": 0}, "axis": null},
  "y": {"field": "v", "type": "quantitative", "scale": {"domain": [-0.098, 0.185], "nice": false, "zero": false, "padding": 0}},
  "text": {"field": "t"}
 }},
{"data": {"values": [
   {"i": -0.5, "v": 0.174, "t": "MACD(26,12,9) DIFF:0.102↑", "k": "w"},
   {"i": 16.0, "v": 0.174, "t": "DEA:0.109↓", "k": "y"},
   {"i": 23.2, "v": 0.174, "t": "MACD:-0.014↑", "k": "m"}]},
 "mark": {"type": "text", "align": "left", "baseline": "middle", "font": "Liberation Sans", "fontSize": 6.5},
 "encoding": {
  "x": {"field": "i", "type": "quantitative", "scale": {"domain": [-0.5, 199.5], "nice": false, "zero": false, "padding": 0}, "axis": null},
  "y": {"field": "v", "type": "quantitative", "scale": {"domain": [-0.098, 0.185], "nice": false, "zero": false, "padding": 0}},
  "text": {"field": "t"},
  "color": {"field": "k", "type": "nominal", "scale": {"domain": ["w", "r", "g", "y", "m"], "range": ["#c8c8c8", "#e03030", "#20c020", "#e8e000", "#e020e0"]}, "legend": null}
 }}
]
}
]
}
